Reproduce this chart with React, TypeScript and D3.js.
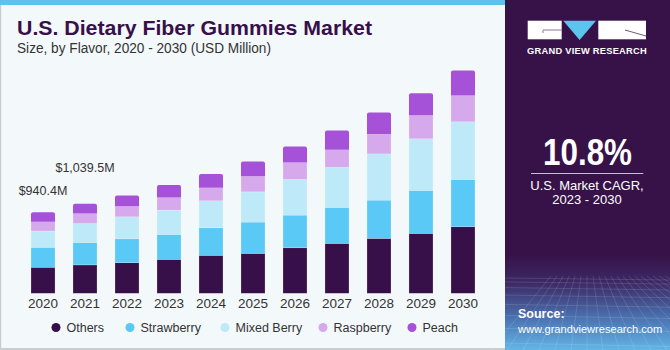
import React from "react";
import * as d3 from "d3";

const years = ["2020", "2021", "2022", "2023", "2024", "2025", "2026", "2027", "2028", "2029", "2030"];
const seriesNames = ["Others", "Strawberry", "Mixed Berry", "Raspberry", "Peach"];
const others = [302.4, 330, 355, 394, 441, 464, 529, 580, 638, 696, 773];
const strawberry = [232, 261, 278, 290, 320, 363, 379, 418, 444, 499, 550];
const mixedBerry = [189, 219, 255, 282, 313, 351, 414, 464, 537, 599, 668];
const raspberry = [108, 117, 124, 147, 151, 182, 197, 204, 232, 275, 306];
const peach = [109, 112.5, 124, 146, 159, 171, 186, 225, 248, 255, 290];
const valueLabels = ["$940.4M", "$1,039.5M"];
const colors = ["#37104a", "#5bc9f5", "#bde9f8", "#d5a9ec", "#a552d9"];

const W = 670;
const H = 350;
const panelX = 505;

export default function App() {
  const seriesValues = [others, strawberry, mixedBerry, raspberry, peach];
  const table = years.map((y, i) => {
    const row: any = { year: y };
    seriesNames.forEach((s, k) => (row[s] = seriesValues[k][i]));
    return row;
  });
  const stacked = d3.stack<any>().keys(seriesNames)(table);

  const x = d3.scaleBand().domain(years).range([10, 496]).paddingInner(0.428).paddingOuter(0.5);
  const y = d3.scaleLinear().domain([0, 2600]).range([293.3, 69.4]);
  const totals = table.map((r) => seriesNames.reduce((a, s) => a + r[s], 0));

  const legendX = [56, 130, 225, 323, 412];
  const labelOffsets = [17, 32];

  return (
    <svg width={W} height={H} style={{ position: "absolute", left: 0, top: 0 }} fontFamily="'Liberation Sans', Arial, sans-serif">
      <defs>
        <linearGradient id="bottomGrad" x1="0" y1="0" x2="0" y2="1">
          <stop offset="0" stopColor="#371249" />
          <stop offset="0.3" stopColor="#3d2a66" />
          <stop offset="0.65" stopColor="#4a6fae" />
          <stop offset="1" stopColor="#62b6e6" />
        </linearGradient>
      </defs>
      <rect x={0} y={0} width={panelX} height={H} fill="#f3f8fb" />
      <rect x={0} y={0} width={panelX} height={5} fill="#5dc3ee" />
      <line x1={0.5} y1={5} x2={0.5} y2={H} stroke="#c9cdd1" strokeWidth={1.5} />
      <line x1={0} y1={H - 1} x2={panelX} y2={H - 1} stroke="#c9cdd1" strokeWidth={2} />

      <text x={17} y={35} fontSize={21} fontWeight={700} fill="#37104a" textLength={355} lengthAdjust="spacingAndGlyphs">
        U.S. Dietary Fiber Gummies Market
      </text>
      <text x={17} y={53.3} fontSize={14} fill="#333" textLength={254} lengthAdjust="spacingAndGlyphs">
        Size, by Flavor, 2020 - 2030 (USD Million)
      </text>

      {stacked.map((layer, k) => (
        <g key={layer.key} fill={colors[k]}>
          {layer.map((d, i) => {
            const top = y(d[1]);
            const h = y(d[0]) - y(d[1]);
            const bx = x(years[i]) as number;
            if (k === seriesNames.length - 1) {
              return (
                <path
                  key={i}
                  d={`M${bx},${top + h} V${top + 2} Q${bx},${top} ${bx + 2},${top} H${bx + x.bandwidth() - 2} Q${bx + x.bandwidth()},${top} ${bx + x.bandwidth()},${top + 2} V${top + h} Z`}
                />
              );
            }
            return <rect key={i} x={bx} y={top} width={x.bandwidth()} height={h} stroke="rgba(255,255,255,0.35)" strokeWidth={0.6} />;
          })}
        </g>
      ))}

      {years.map((yr) => (
        <text key={yr} x={(x(yr) as number) + x.bandwidth() / 2} y={308} fontSize={13.5} textAnchor="middle" fill="#333">
          {yr}
        </text>
      ))}

      {valueLabels.map((lab, i) => (
        <text key={lab} x={(x(years[i]) as number) + x.bandwidth() / 2} y={y(totals[i]) - labelOffsets[i]} fontSize={12.5} textAnchor="middle" fill="#333">
          {lab}
        </text>
      ))}

      {seriesNames.map((s, k) => (
        <g key={s}>
          <circle cx={legendX[k]} cy={327.5} r={4.5} fill={colors[k]} />
          <text x={legendX[k] + 10.5} y={332} fontSize={12.5} fill="#333">
            {s}
          </text>
        </g>
      ))}

      {/* right panel */}
      <rect x={panelX} y={0} width={W - panelX} height={H} fill="#371249" />
      <rect x={panelX} y={255} width={W - panelX} height={95} fill="url(#bottomGrad)" />
      <g stroke="#ffffff" strokeOpacity={0.18} strokeWidth={0.7} fill="none">
        {d3.range(0, 9).map((i) => (
          <line key={"h" + i} x1={panelX} x2={W} y1={278 + i * i * 0.9 + i * 3} y2={280 + i * i * 0.9 + i * 3.2} />
        ))}
        {d3.range(-6, 14).map((i) => (
          <line key={"v" + i} x1={587 + i * 6} y1={276} x2={587 + i * 16} y2={350} />
        ))}
      </g>

      {/* logo */}
      <rect x={527.7} y={20.7} width={34} height={18.6} fill="#ffffff" />
      <path d="M543,30 H561.7 M543,30 V33" stroke="#8b7a9a" strokeWidth={1} />
      <path d="M563.3,20.7 H596 L579.6,40 Z" fill="#5bc5ef" />
      <rect x={598.3} y={20.7} width={47.7} height={18.6} fill="#ffffff" />
      <path d="M625,30 L646,36" stroke="#6b5a80" strokeWidth={1} />
      <text x={587} y={54} fontSize={9.3} fontWeight={700} fill="#ffffff" textAnchor="middle" letterSpacing={0.25}>
        GRAND VIEW RESEARCH
      </text>

      <text x={587.5} y={165} fontSize={37} fontWeight={700} fill="#ffffff" textAnchor="middle" textLength={89} lengthAdjust="spacingAndGlyphs">
        10.8%
      </text>
      <line x1={531} x2={643.3} y1={173.5} y2={173.5} stroke="#c9bcd6" strokeWidth={1} />
      <text x={587} y={190} fontSize={13} fill="#ffffff" textAnchor="middle">
        U.S. Market CAGR,
      </text>
      <text x={587} y={204} fontSize={13} fill="#ffffff" textAnchor="middle">
        2023 - 2030
      </text>

      <text x={518} y={318.3} fontSize={12.5} fontWeight={700} fill="#ffffff">
        Source:
      </text>
      <text x={518} y={333.3} fontSize={11.1} fill="#ffffff">
        www.grandviewresearch.com
      </text>
    </svg>
  );
}
